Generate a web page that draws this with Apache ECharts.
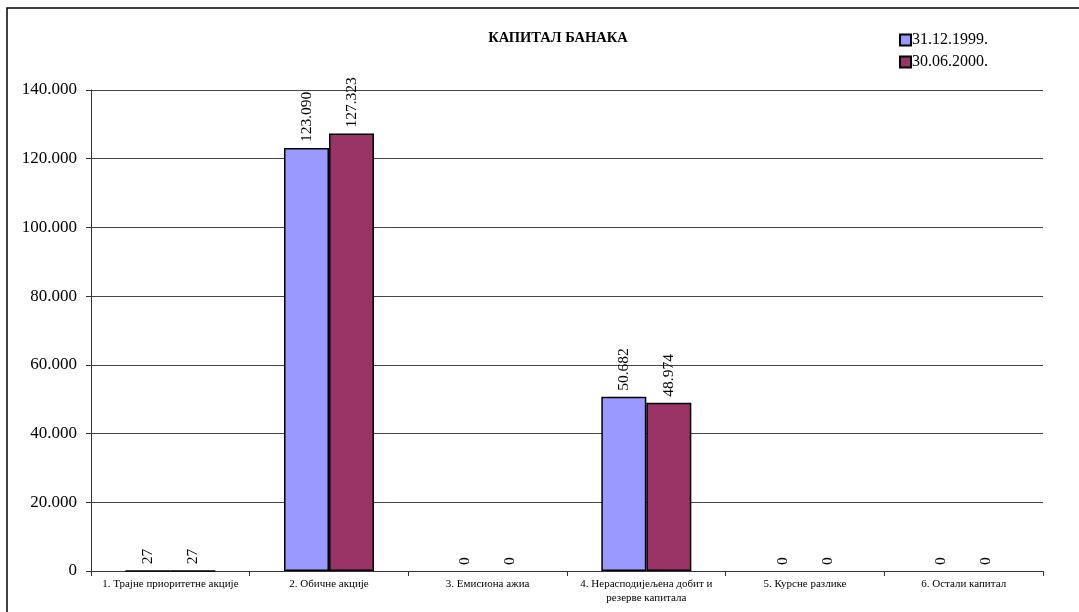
<!DOCTYPE html>
<html>
<head>
<meta charset="utf-8">
<script src="https://cdn.jsdelivr.net/npm/echarts@6/dist/echarts.min.js"></script>
<style>
  html, body { margin: 0; padding: 0; background: #fff; }
  #chart { width: 1079px; height: 612px; }
</style>
</head>
<body>
<div id="chart"></div>
<script>
// категорије капитала
var categories = [
  '1. Трајне приоритетне акције',
  '2. Обичне акције',
  '3. Емисиона ажиа',
  '4. Нерасподијељена добит и\nрезерве капитала',
  '5. Курсне разлике',
  '6. Остали капитал'
];

var seriesNames = ['31.12.1999.', '30.06.2000.'];
var values1999 = [27, 123090, 0, 50682, 0, 0];
var values2000 = [27, 127323, 0, 48974, 0, 0];
var yTicks = { min: 0, max: 140000, interval: 20000 };

// број са тачком као сепаратором хиљада
function fmt(v) {
  return String(Math.round(v)).replace(/\B(?=(\d{3})+(?!\d))/g, '.');
}

// нулти стубови се не цртају (без оквира), само натпис
function toBarData(arr) {
  return arr.map(function (v) {
    return v === 0 ? { value: v, itemStyle: { borderWidth: 0, opacity: 0 } } : v;
  });
}

var chart = echarts.init(document.getElementById('chart'));

var labelOpt = {
  show: true,
  position: 'top',
  rotate: 90,
  align: 'left',
  verticalAlign: 'middle',
  distance: 6,
  color: '#000',
  opacity: 1,
  fontFamily: 'Liberation Serif',
  fontSize: 15.5,
  formatter: function (p) { return fmt(p.value); }
};

var option = {
  animation: false,
  backgroundColor: '#fff',
  title: {
    text: 'КАПИТАЛ БАНАКА',
    left: 553,
    textAlign: 'center',
    top: 26,
    textStyle: {
      fontFamily: 'Liberation Serif',
      fontWeight: 'bold',
      fontSize: 14.5,
      color: '#000'
    }
  },
  legend: {
    data: seriesNames,
    orient: 'vertical',
    left: 894,
    top: 27,
    itemWidth: 11,
    itemHeight: 11,
    itemGap: 6,
    icon: 'rect',
    textStyle: {
      fontFamily: 'Liberation Serif',
      fontSize: 16,
      color: '#000',
      padding: [0, 0, 0, -4]
    }
  },
  graphic: [{
    type: 'rect',
    shape: { x: 7, y: 8, width: 1200, height: 1000 },
    style: { fill: 'none', stroke: '#000', lineWidth: 1.5 },
    silent: true
  }],
  grid: {
    left: 91,
    right: 36,
    top: 90,
    bottom: 41
  },
  xAxis: {
    type: 'category',
    data: categories,
    axisLine: { lineStyle: { color: '#333', width: 1 } },
    axisTick: { show: true, length: 5, lineStyle: { color: '#333' } },
    axisLabel: {
      color: '#000',
      fontFamily: 'Liberation Serif',
      fontSize: 11,
      margin: 6,
      lineHeight: 14,
      interval: 0
    }
  },
  yAxis: {
    type: 'value',
    min: yTicks.min,
    max: yTicks.max,
    interval: yTicks.interval,
    axisLine: { show: true, lineStyle: { color: '#333' } },
    axisTick: { show: true, length: 5, lineStyle: { color: '#333' } },
    splitLine: { lineStyle: { color: '#444', width: 1 } },
    axisLabel: {
      color: '#000',
      fontFamily: 'Liberation Serif',
      fontSize: 17,
      margin: 14,
      formatter: function (v) { return fmt(v); }
    }
  },
  series: [{
    name: seriesNames[0],
    type: 'bar',
    data: toBarData(values1999),
    barWidth: 45,
    barGap: '0%',
    itemStyle: { color: '#9999FF', borderColor: '#000', borderWidth: 1.5 },
    label: labelOpt
  }, {
    name: seriesNames[1],
    type: 'bar',
    data: toBarData(values2000),
    barWidth: 45,
    itemStyle: { color: '#993366', borderColor: '#000', borderWidth: 1.5 },
    label: labelOpt
  }]
};

chart.setOption(option);
</script>
</body>
</html>
